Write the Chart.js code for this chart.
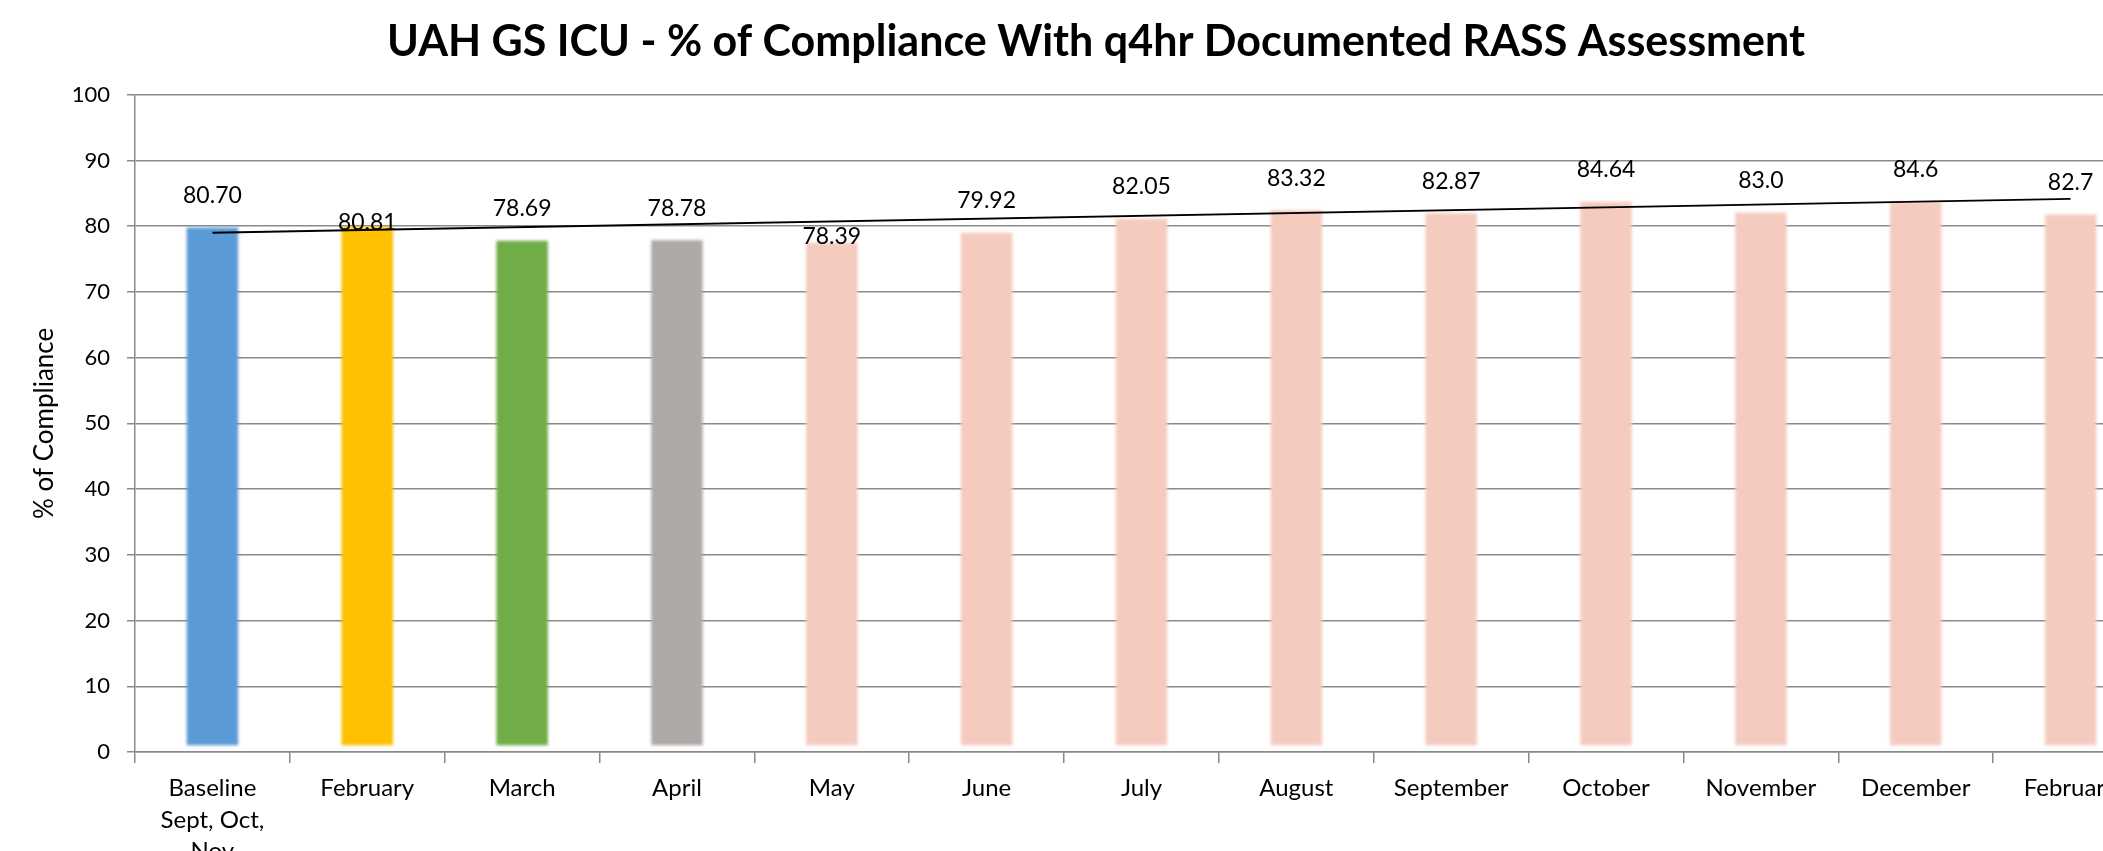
<!DOCTYPE html>
<html>
<head>
<meta charset="utf-8">
<script src="https://cdn.jsdelivr.net/npm/chart.js@4"></script>
<style>
  html, body { margin: 0; padding: 0; overflow: hidden; background: #ffffff; width: 2103px; height: 851px; }
  #wrap { position: absolute; left: 0; top: 0; }
</style>
</head>
<body>
<div id="wrap"><canvas id="c" width="2192" height="880"></canvas></div>
<script>
// ---- data ----
const categories = [
  ['Baseline', 'Sept, Oct,', 'Nov'], 'February', 'March', 'April', 'May', 'June',
  'July', 'August', 'September', 'October', 'November', 'December', 'February'
];
const compliance = [80.70, 80.81, 78.69, 78.78, 78.39, 79.92, 82.05, 83.32, 82.87, 84.64, 83.0, 84.6, 82.7];
const valueLabels = ['80.70', '80.81', '78.69', '78.78', '78.39', '79.92', '82.05', '83.32', '82.87', '84.64', '83.0', '84.6', '82.7'];
const trendStart = 79.0;
const trendEnd = 84.15;
const yTickValues = [0, 10, 20, 30, 40, 50, 60, 70, 80, 90, 100];

// ---- styles ----
const barColors = ['#5B9BD5', '#FFC000', '#70AD47', '#ADA9A7',
  '#F5CBBF', '#F5CBBF', '#F5CBBF', '#F5CBBF', '#F5CBBF', '#F5CBBF', '#F5CBBF', '#F5CBBF', '#F5CBBF'];
const gridGray = '#8a8a8a';
const labelLiftDefault = 26;
const labelLiftOverride = { 1: -2, 4: 0 };

const trendData = categories.map((c, i) => i === 0 ? trendStart : (i === categories.length - 1 ? trendEnd : null));

const softEdges = {
  id: 'softEdges',
  beforeDatasetDraw(chart, args) {
    if (chart.data.datasets[args.index].type === 'bar') {
      chart.ctx.save();
      chart.ctx.filter = 'blur(1.5px)';
    }
  },
  afterDatasetDraw(chart, args) {
    if (chart.data.datasets[args.index].type === 'bar') {
      chart.ctx.restore();
    }
  }
};

const valueLabelPlugin = {
  id: 'valueLabelPlugin',
  afterDatasetsDraw(chart) {
    const idx = chart.data.datasets.findIndex(d => d.type === 'bar');
    const meta = chart.getDatasetMeta(idx);
    const ctx = chart.ctx;
    const yScale = chart.scales.y;
    ctx.save();
    ctx.font = '23px Lato';
    ctx.fillStyle = '#000000';
    ctx.textAlign = 'center';
    ctx.textBaseline = 'middle';
    meta.data.forEach((bar, i) => {
      const lift = (i in labelLiftOverride) ? labelLiftOverride[i] : labelLiftDefault;
      const y = yScale.getPixelForValue(compliance[i]) - lift;
      ctx.fillText(valueLabels[i], bar.x, y);
    });
    ctx.restore();
  }
};

new Chart(document.getElementById('c'), {
  type: 'bar',
  data: {
    labels: categories,
    datasets: [
      {
        type: 'line',
        data: trendData,
        yAxisID: 'y',
        borderColor: '#000000',
        borderWidth: 1.8,
        pointRadius: 0,
        spanGaps: true,
        fill: false,
        order: 0
      },
      {
        type: 'bar',
        data: compliance,
        yAxisID: 'y',
        backgroundColor: barColors,
        borderColor: 'rgba(255,255,255,0)',
        borderWidth: 6,
        borderSkipped: false,
        inflateAmount: 0,
        barPercentage: 0.41,
        categoryPercentage: 1,
        order: 1
      }
    ]
  },
  options: {
    responsive: false,
    animation: false,
    devicePixelRatio: 1,
    layout: { padding: { left: 0, right: 0, top: 0, bottom: 0 } },
    plugins: {
      legend: { display: false },
      tooltip: { enabled: false },
      title: {
        display: true,
        text: 'UAH GS ICU - % of Compliance With q4hr Documented RASS Assessment',
        color: '#000000',
        font: { family: 'Lato', weight: 'bold', size: 43, lineHeight: 1.2 },
        padding: { top: 15.9, bottom: 27.2 }
      }
    },
    scales: {
      x: {
        type: 'category',
        offset: true,
        grid: { offset: true, drawOnChartArea: false, tickLength: 11, color: gridGray, lineWidth: 1.5 },
        border: { color: gridGray, width: 1.5 },
        ticks: {
          color: '#000000',
          font: { family: 'Lato', size: 24, lineHeight: 1.3 },
          padding: 10,
          maxRotation: 0,
          minRotation: 0,
          autoSkip: false
        },
        afterFit(s) { s.height = 128; }
      },
      y: {
        position: 'left',
        min: 0,
        max: 100,
        afterBuildTicks(s) { s.ticks = yTickValues.map(v => ({ value: v })); },
        grid: { color: gridGray, lineWidth: 1.5, tickLength: 8 },
        border: { color: gridGray, width: 1.5 },
        ticks: {
          color: '#000000',
          font: { family: 'Lato', size: 22 },
          padding: 17
        },
        title: {
          display: true,
          text: '% of Compliance',
          color: '#000000',
          font: { family: 'Lato', size: 26, lineHeight: 1.2 },
          padding: { top: 29.1, bottom: 0 }
        },
        afterFit(s) { s.width = 135; }
      },
      yRightSpace: {
        position: 'right',
        axis: 'y',
        min: 0,
        max: 100,
        display: true,
        grid: { display: false, drawTicks: false },
        border: { display: false },
        ticks: { display: false },
        afterFit(s) { s.width = 44; }
      }
    }
  },
  plugins: [softEdges, valueLabelPlugin]
});
</script>
</body>
</html>
